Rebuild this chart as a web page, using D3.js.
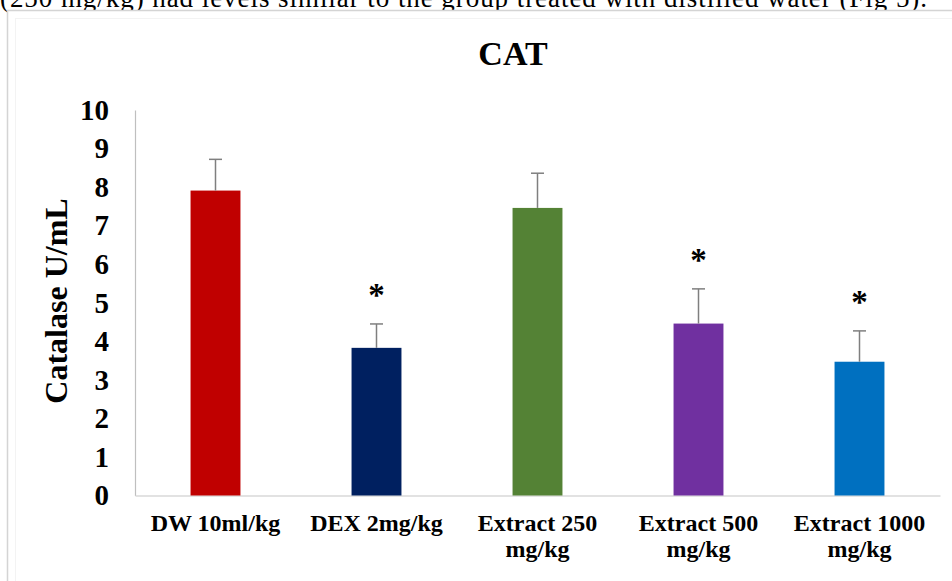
<!DOCTYPE html>
<html>
<head>
<meta charset="utf-8">
<script src="https://cdn.jsdelivr.net/npm/d3@7/dist/d3.min.js"></script>
<style>
  html, body { margin: 0; padding: 0; background: #fff; }
  svg { display: block; }
</style>
</head>
<body>
<svg id="chart" width="952" height="581"></svg>
<script>
// Catalase activity per treatment group (mean ± SD)
const categories = ["DW 10ml/kg", "DEX 2mg/kg", "Extract 250\nmg/kg", "Extract 500\nmg/kg", "Extract 1000\nmg/kg"];
const means = [7.91, 3.83, 7.46, 4.46, 3.47];
const errors = [0.81, 0.62, 0.90, 0.90, 0.80];
const significant = [false, true, false, true, true];
const barColors = ["#C00000", "#002060", "#548235", "#7030A0", "#0070C0"];
const yTicks = [0, 1, 2, 3, 4, 5, 6, 7, 8, 9, 10];
const chartTitle = "CAT";
const yTitle = "Catalase U/mL";
const captionLine = "(250 mg/kg) had levels similar to the group treated with distilled water (Fig 5).";

const svg = d3.select("#chart");
const serif = "Liberation Serif, Times New Roman, serif";

// Running text of the surrounding page, cut by the top edge
svg.append("text")
  .attr("x", 0).attr("y", 7)
  .attr("font-family", serif)
  .attr("font-size", 27)
  .attr("textLength", 927)
  .attr("lengthAdjust", "spacing")
  .attr("fill", "#000")
  .text(captionLine);

// Chart frame
svg.append("rect")
  .attr("x", 7.5).attr("y", 10.5)
  .attr("width", 960).attr("height", 600)
  .attr("fill", "#fff")
  .attr("stroke", "#d4d4d4").attr("stroke-width", 1.5);
svg.append("rect")
  .attr("x", 15.5).attr("y", 18.5)
  .attr("width", 950).attr("height", 590)
  .attr("fill", "none")
  .attr("stroke", "#f3f3f3").attr("stroke-width", 1);

const plot = { left: 135, right: 940, top: 110, bottom: 495.5 };

const x = d3.scaleBand()
  .domain(d3.range(categories.length))
  .range([plot.left, plot.right])
  .paddingInner(0.69)
  .paddingOuter(0.345);

const y = d3.scaleLinear()
  .domain([0, 10])
  .range([plot.bottom, plot.top]);

// Title
svg.append("text")
  .attr("x", 513).attr("y", 65)
  .attr("text-anchor", "middle")
  .attr("font-family", serif)
  .attr("font-weight", "bold")
  .attr("font-size", 34)
  .text(chartTitle);

// Y axis: line plus bold numeric labels, no tick marks
const yAxis = d3.axisLeft(y).tickValues(yTicks).tickSize(0).tickPadding(26).tickFormat(d3.format("d"));
const yg = svg.append("g").attr("transform", `translate(${plot.left},0)`).call(yAxis);
yg.select(".domain").attr("stroke", "#bfbfbf").attr("stroke-width", 1.2);
yg.selectAll("text")
  .attr("font-family", serif)
  .attr("font-weight", "bold")
  .attr("font-size", 29)
  .attr("fill", "#000");

// X axis baseline
const xAxis = d3.axisBottom(x).tickSize(0).tickFormat(() => "");
const xg = svg.append("g").attr("transform", `translate(0,${plot.bottom})`).call(xAxis);
xg.select(".domain").attr("stroke", "#d9d9d9").attr("stroke-width", 1.5);

// Category labels (wrapped on two lines where needed)
const labels = svg.append("g")
  .attr("font-family", serif)
  .attr("font-weight", "bold")
  .attr("font-size", 24)
  .attr("text-anchor", "middle");
categories.forEach((c, i) => {
  const t = labels.append("text")
    .attr("x", x(i) + x.bandwidth() / 2)
    .attr("y", 531);
  c.split("\n").forEach((line, k) => {
    t.append("tspan")
      .attr("x", x(i) + x.bandwidth() / 2)
      .attr("dy", k === 0 ? 0 : 25.5)
      .text(line);
  });
});

// Bars
svg.append("g").selectAll("rect")
  .data(means)
  .join("rect")
  .attr("x", (d, i) => x(i))
  .attr("y", d => y(d))
  .attr("width", x.bandwidth())
  .attr("height", d => y(0) - y(d))
  .attr("fill", (d, i) => barColors[i]);

// Error bars (upper half only)
const eb = svg.append("g").attr("stroke", "#7f7f7f").attr("stroke-width", 1.5);
means.forEach((m, i) => {
  const cx = x(i) + x.bandwidth() / 2;
  eb.append("line")
    .attr("x1", cx).attr("x2", cx)
    .attr("y1", y(m)).attr("y2", y(m + errors[i]));
  eb.append("line")
    .attr("x1", cx - 6.5).attr("x2", cx + 6.5)
    .attr("y1", y(m + errors[i])).attr("y2", y(m + errors[i]));
});

// Significance markers
svg.append("g")
  .attr("font-family", serif)
  .attr("font-weight", "bold")
  .attr("font-size", 33)
  .attr("text-anchor", "middle")
  .selectAll("text")
  .data(means.map((m, i) => ({ m, i })).filter(d => significant[d.i]))
  .join("text")
  .attr("x", d => x(d.i) + x.bandwidth() / 2)
  .attr("y", d => y(d.m + errors[d.i]) - 18)
  .text("*");

// Y axis title
svg.append("text")
  .attr("transform", "translate(67,301) rotate(-90)")
  .attr("text-anchor", "middle")
  .attr("font-family", serif)
  .attr("font-weight", "bold")
  .attr("font-size", 32)
  .text(yTitle);
</script>
</body>
</html>
